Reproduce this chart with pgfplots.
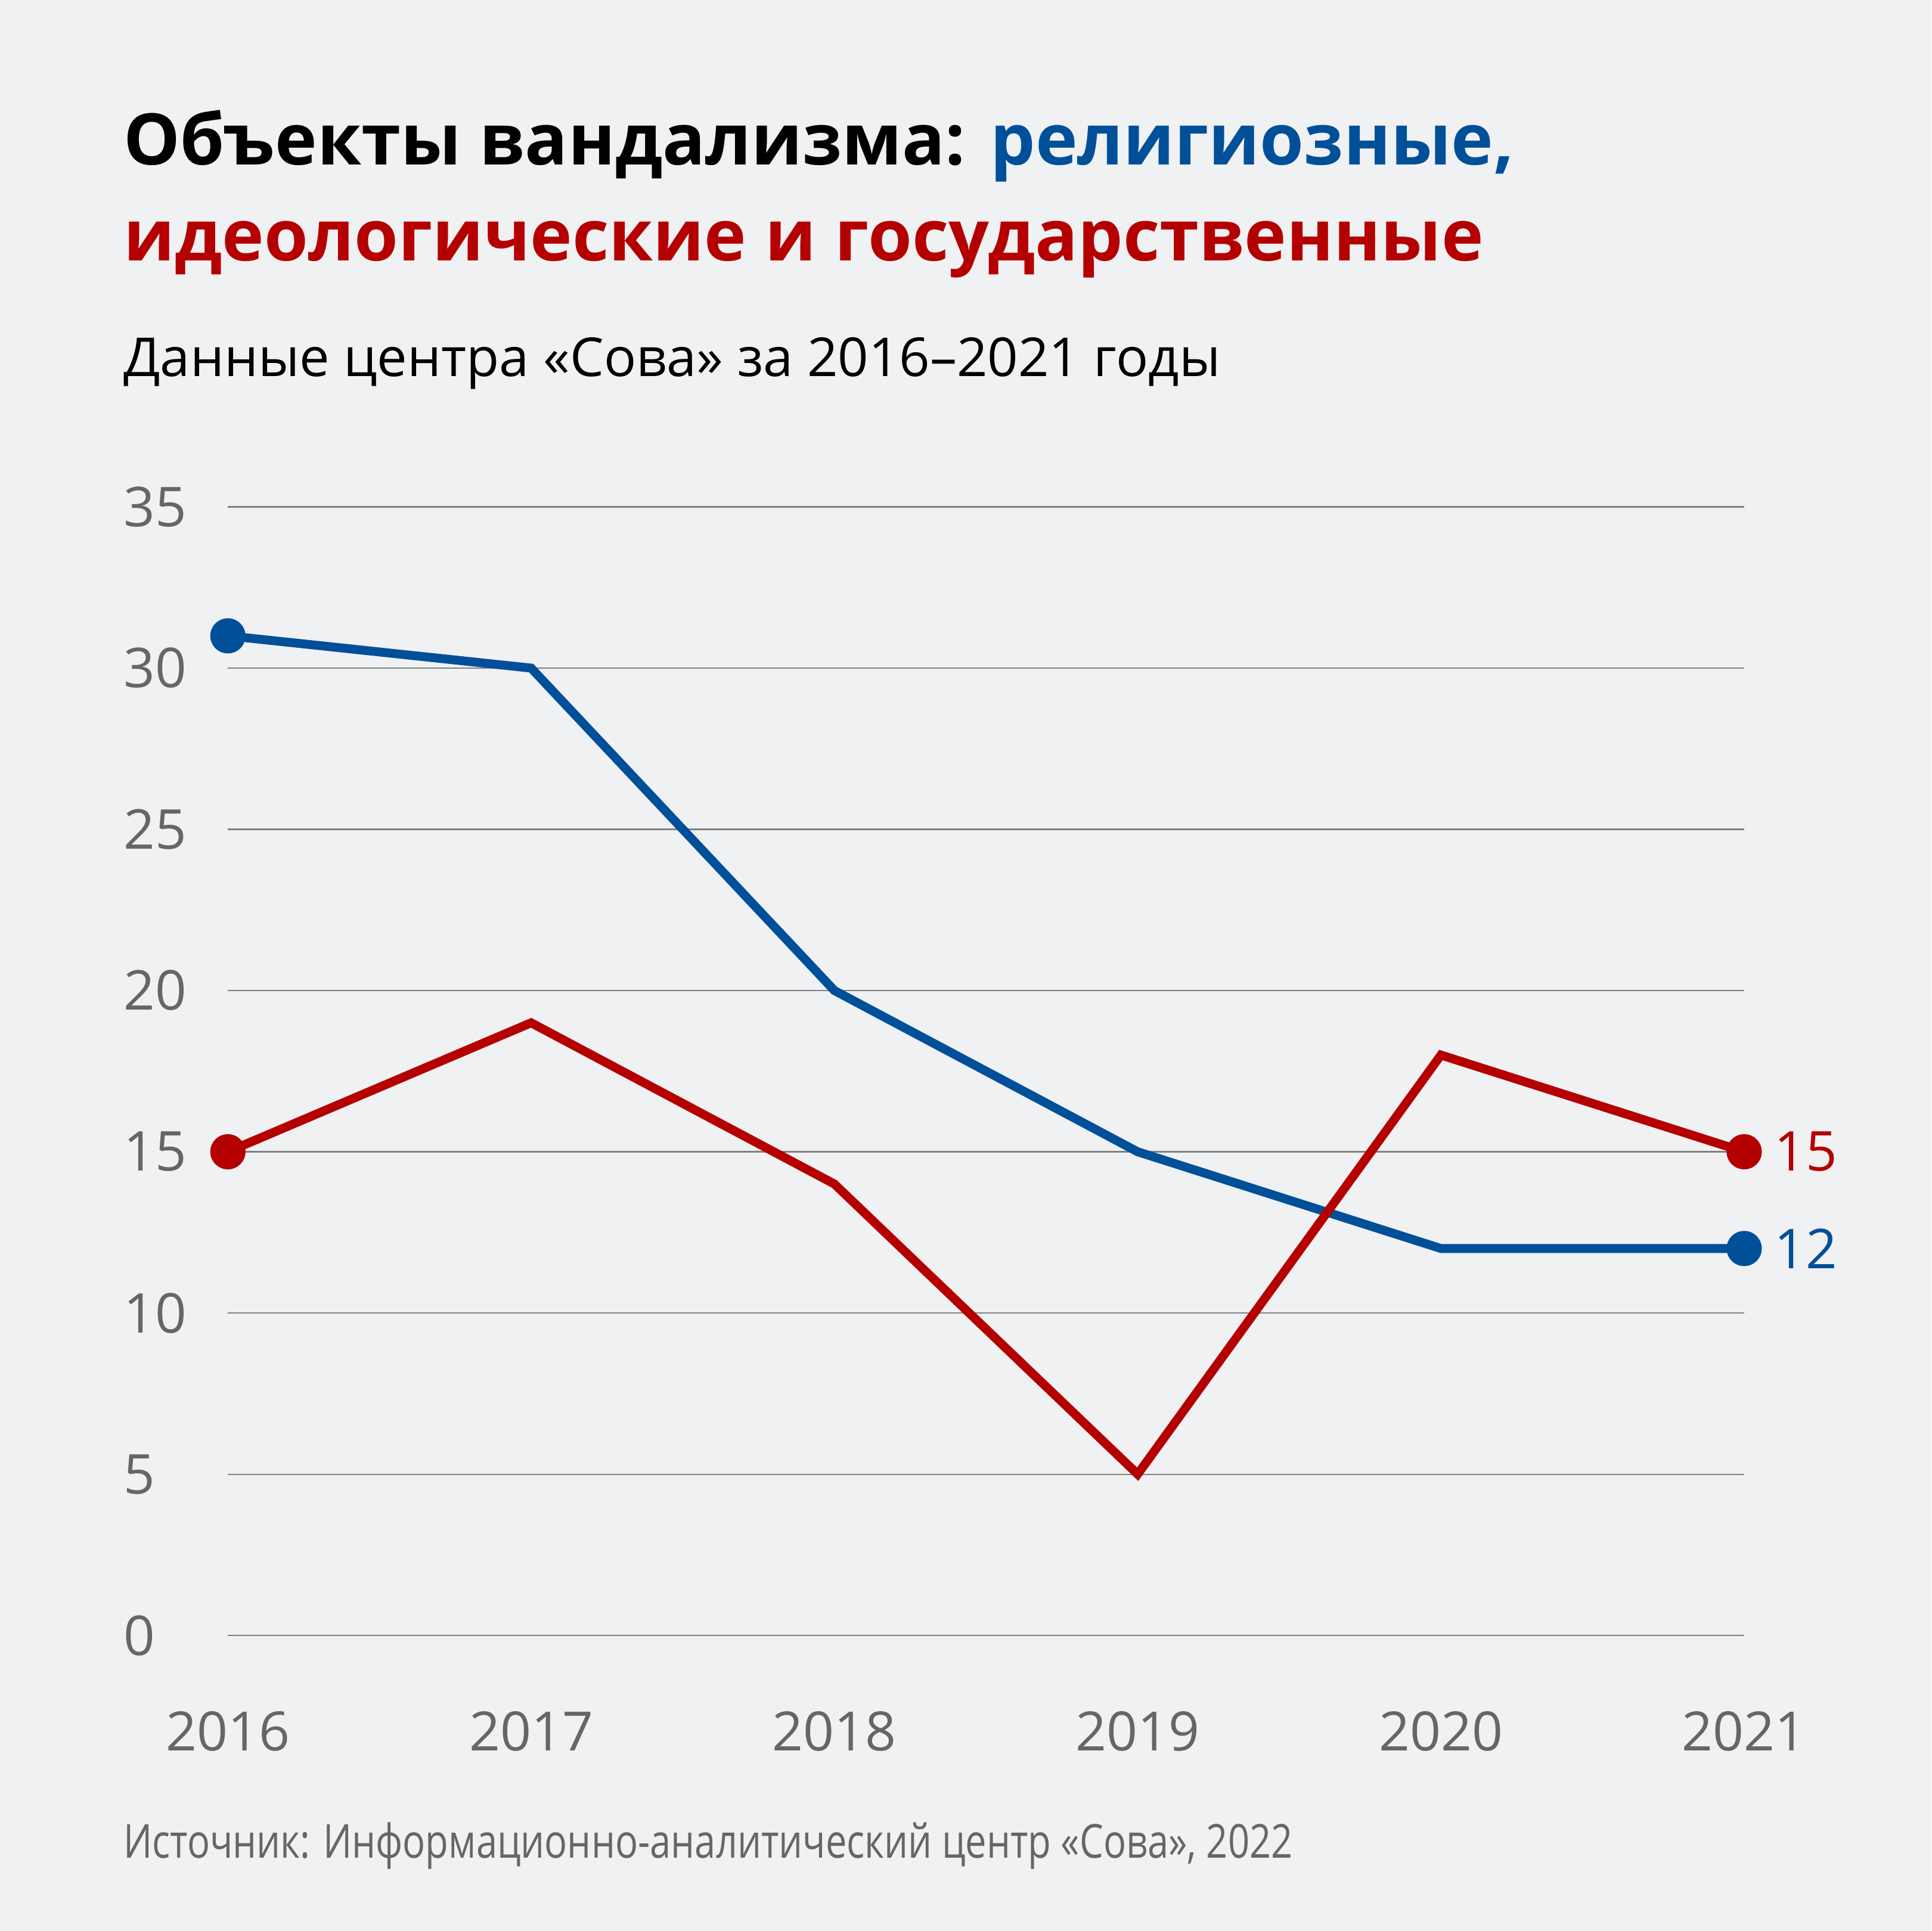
\documentclass[border=0pt]{standalone}
\usepackage{fontspec}
\setmainfont{Open Sans}
\newfontfamily\srcfont[FakeStretch=0.805]{Open Sans}
\usepackage{pgfplots}
\pgfplotsset{compat=1.18}
\definecolor{bgc}{HTML}{F0F1F3}
\definecolor{dwblue}{HTML}{004F99}
\definecolor{dwred}{HTML}{B40000}
\definecolor{txtgrey}{HTML}{666666}
\definecolor{gridgrey}{HTML}{808080}
\begin{document}
\begin{tikzpicture}
\fill[bgc] (0,0) rectangle (784pt,784pt);
\node[anchor=base west, inner sep=0pt] at (50pt,717.2pt) {\fontsize{28.9}{36}\selectfont\bfseries Объекты вандализма: \textcolor{dwblue}{религиозные,}};
\node[anchor=base west, inner sep=0pt] at (50pt,678.2pt) {\fontsize{28.9}{36}\selectfont\bfseries\color{dwred} идеологические и государственные};
\node[anchor=base west, inner sep=0pt] at (50pt,631.3pt) {\fontsize{21.8}{26}\selectfont Данные центра «Сова» за 2016–2021 годы};
\node[anchor=base west, inner sep=0pt, text=txtgrey] at (50pt,29.7pt) {\srcfont\fontsize{19}{22}\selectfont Источник: Информационно-аналитический центр «Сова», 2022};
\begin{axis}[
  at={(92.5pt,120pt)}, anchor=south west,
  scale only axis, width=615.5pt, height=458.2pt,
  xmin=2016, xmax=2021, ymin=0, ymax=35,
  xtick={2016,2017,2018,2019,2020,2021},
  ytick={0,5,10,15,20,25,30,35},
  xticklabels={2016,2017,2018,2019,2020,2021},
  axis line style={draw=none},
  major tick length=0pt,
  ymajorgrids, grid style={gridgrey, line width=0.5pt},
  /pgf/number format/assume math mode=true,
  yticklabel style={anchor=west, inner sep=0pt, xshift=-42.5pt, font=\fontsize{22.3}{26}\selectfont, text=txtgrey},
  xticklabel style={anchor=base, inner sep=0pt, yshift=-46.75pt, font=\fontsize{22}{26}\selectfont, text=txtgrey},
  clip=false,
]
\addplot[dwblue, line width=3.6pt, mark=*, mark size=5.35pt, mark indices={1,6}, mark options={solid, fill=dwblue, draw=none}]
  coordinates {(2016,31) (2017,30) (2018,20) (2019,15) (2020,12) (2021,12)};
\addplot[dwred, line width=3.6pt, mark=*, mark size=5.35pt, mark indices={1,6}, mark options={solid, fill=dwred, draw=none}]
  coordinates {(2016,15) (2017,19) (2018,14) (2019,5) (2020,18) (2021,15)};
\node[anchor=west, inner sep=0pt, text=dwred, font=\fontsize{22.3}{26}\selectfont] at (axis cs:2021,15) [xshift=12pt] {15};
\node[anchor=west, inner sep=0pt, text=dwblue, font=\fontsize{22.3}{26}\selectfont] at (axis cs:2021,12) [xshift=12pt] {12};
\end{axis}
\end{tikzpicture}
\end{document}
